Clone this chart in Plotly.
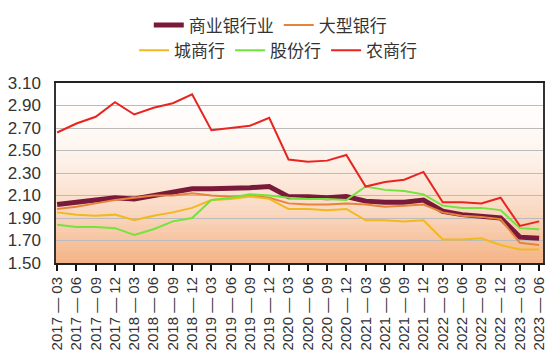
import plotly.graph_objects as go

categories = ["2017-03", "2017-06", "2017-09", "2017-12", "2018-03", "2018-06", "2018-09", "2018-12",
              "2019-03", "2019-06", "2019-09", "2019-12", "2020-03", "2020-06", "2020-09", "2020-12",
              "2021-03", "2021-06", "2021-09", "2021-12", "2022-03", "2022-06", "2022-09", "2022-12",
              "2023-03", "2023-06"]

commercial = [2.02, 2.04, 2.06, 2.08, 2.07, 2.10, 2.13, 2.16, 2.16, 2.16, 2.17, 2.18,
              2.09, 2.09, 2.08, 2.09, 2.05, 2.04, 2.04, 2.06, 1.96, 1.93, 1.92, 1.90, 1.73, 1.72]
large = [1.98, 2.00, 2.03, 2.06, 2.08, 2.10, 2.10, 2.12, 2.10, 2.09, 2.10, 2.08,
         2.03, 2.02, 2.02, 2.03, 2.02, 2.00, 2.01, 2.02, 1.95, 1.92, 1.91, 1.89, 1.68, 1.66]
city = [1.95, 1.93, 1.92, 1.93, 1.88, 1.92, 1.95, 1.99, 2.06, 2.07, 2.09, 2.07,
        1.98, 1.98, 1.97, 1.98, 1.88, 1.88, 1.87, 1.88, 1.71, 1.71, 1.72, 1.66, 1.62, 1.62]
joint = [1.84, 1.82, 1.82, 1.81, 1.75, 1.80, 1.87, 1.90, 2.06, 2.08, 2.11, 2.10,
         2.08, 2.07, 2.07, 2.06, 2.18, 2.15, 2.14, 2.11, 2.01, 1.99, 1.99, 1.97, 1.81, 1.80]
rural = [2.66, 2.74, 2.80, 2.93, 2.82, 2.88, 2.92, 3.00, 2.68, 2.70, 2.72, 2.79,
         2.42, 2.40, 2.41, 2.46, 2.18, 2.22, 2.24, 2.31, 2.04, 2.04, 2.03, 2.08, 1.83, 1.87]

series_names = ["商业银行业", "大型银行", "城商行", "股份行", "农商行"]
series_values = [commercial, large, city, joint, rural]
series_colors = ["#7A1A3A", "#E8843A", "#F2B81E", "#74E43C", "#E82420"]
series_widths = [5, 2, 2, 2, 2]
series_legend = ["legend", "legend", "legend2", "legend2", "legend2"]

tick_labels = [c.replace("-", " — ") for c in categories]

fig = go.Figure()
for name, vals, col, w, lg in zip(series_names, series_values, series_colors, series_widths, series_legend):
    fig.add_trace(go.Scatter(x=categories, y=vals, name=name, mode="lines",
                             line=dict(color=col, width=w), legend=lg))

# vertical gradient background
shapes = []
n = 80
top_c = (255, 255, 255)
bot_c = (244, 178, 132)
for i in range(n):
    t0 = i / n
    t1 = (i + 1) / n
    tm = (t0 + t1) / 2  # 0 at top, 1 at bottom
    f = tm ** 2
    r = round(top_c[0] + (bot_c[0] - top_c[0]) * f)
    g = round(top_c[1] + (bot_c[1] - top_c[1]) * f)
    b = round(top_c[2] + (bot_c[2] - top_c[2]) * f)
    shapes.append(dict(type="rect", xref="paper", yref="paper", x0=0, x1=1,
                       y0=1 - t1 - 0.002, y1=1 - t0 + 0.002, layer="below",
                       line=dict(width=0), fillcolor=f"rgb({r},{g},{b})"))

font_family = "Noto Sans CJK SC, Liberation Sans, Arial, sans-serif"

fig.update_layout(
    width=550, height=355,
    margin=dict(l=56, r=7, t=70, b=92),
    paper_bgcolor="white", plot_bgcolor="white",
    shapes=shapes,
    showlegend=True,
    legend=dict(orientation="h", x=0.44, xanchor="center", y=1.32, yanchor="middle",
                font=dict(family=font_family, size=17, color="#333333"),
                bgcolor="rgba(0,0,0,0)", itemwidth=30, tracegroupgap=0),
    legend2=dict(orientation="h", x=0.456, xanchor="center", y=1.18, yanchor="middle",
                 font=dict(family=font_family, size=17, color="#333333"),
                 bgcolor="rgba(0,0,0,0)", itemwidth=30),
    xaxis=dict(type="category", range=[-0.06, 25.2], tickmode="array",
               tickvals=categories, ticktext=tick_labels, tickangle=-90,
               ticks="outside", ticklen=6, tickwidth=2, tickcolor="#111111",
               showline=True, linecolor="#222222", linewidth=2, mirror=True,
               showgrid=False, automargin=False,
               tickfont=dict(family="Liberation Sans, Arial, sans-serif", size=15, color="#333333")),
    yaxis=dict(range=[1.5, 3.1], tick0=1.5, dtick=0.2, tickformat=".2f",
               showgrid=True, gridcolor="#BBBBBB", gridwidth=1,
               showline=True, linecolor="#333333", linewidth=1.5, mirror=True,
               zeroline=False, ticks="", ticklabelstandoff=10, automargin=False,
               tickfont=dict(family="Liberation Sans, Arial, sans-serif", size=17, color="#333333")),
)

fig.write_html("out.html", config={"displayModeBar": False},
               post_script="document.body.style.margin='0';document.body.style.overflow='hidden';")
